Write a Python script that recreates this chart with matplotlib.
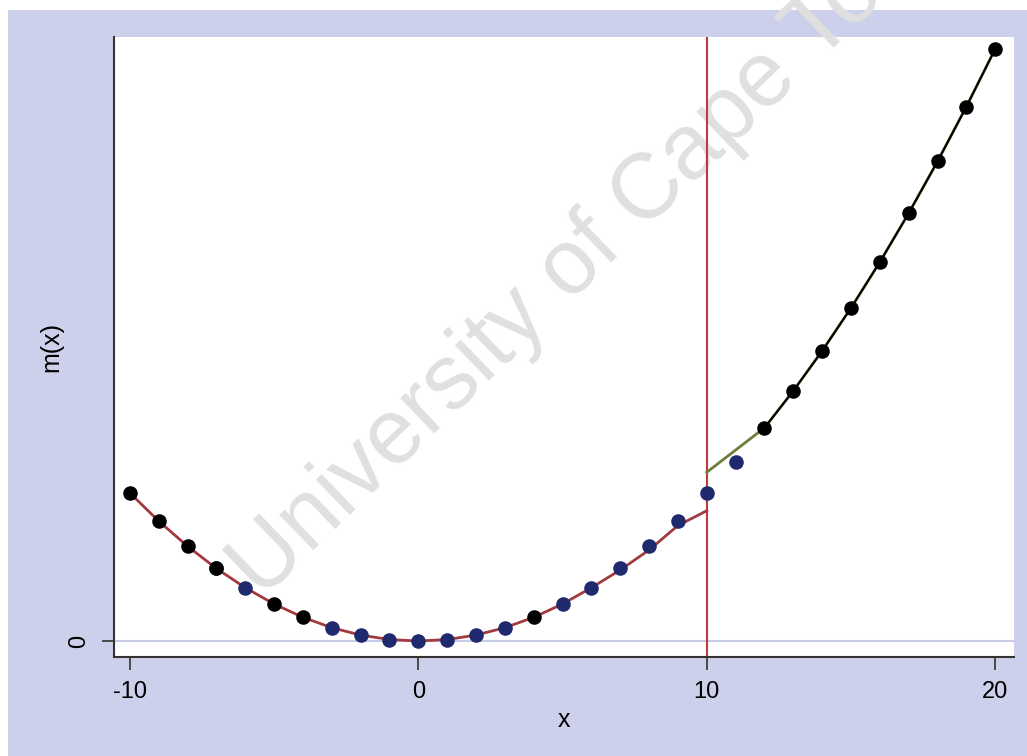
import numpy as np
import matplotlib.pyplot as plt
from matplotlib.patches import Rectangle

plt.rcParams['axes.unicode_minus'] = False
plt.rcParams['font.family'] = ['Liberation Sans', 'DejaVu Sans']

# observed points (two overlapping series)
x_black = [-10, -9, -8, -7, -5, -4, 4, 12, 13, 14, 15, 16, 17, 18, 19, 20]
y_black = [100, 81, 64, 49, 25, 16, 16, 144, 169, 196, 225, 256, 289, 324, 361, 400]
x_navy = [-7, -6, -3, -2, -1, 0, 1, 2, 3, 5, 6, 7, 8, 9, 10, 11]
y_navy = [49, 36, 9, 4, 1, 0, 1, 4, 9, 25, 36, 49, 64, 81, 100, 121]

# fitted curve left of cutoff
x_fit_left = [-10, -9, -8, -7, -6, -5, -4, -3, -2, -1, 0, 1, 2, 3, 4, 5, 6, 7, 8, 9, 10]
y_fit_left = [100, 81, 64, 49, 36, 25, 16, 9, 4, 1, 0, 1, 4, 9, 16, 25, 36, 48, 61.5, 78, 88]
# fitted curve right of cutoff
x_fit_right = [10, 11, 12, 13, 14, 15, 16, 17, 18, 19, 20]
y_fit_right = [114, 129, 144, 169, 196, 225, 256, 289, 324, 361, 400]

cutoff = 10

fig = plt.figure(figsize=(10.27, 7.56), dpi=100)
fig.patch.set_facecolor('white')
fig.patches.append(Rectangle((8 / 1027, 0), 1, 746 / 756, transform=fig.transFigure,
                             facecolor='#cdd0ea', edgecolor='none', zorder=-1))

ax = fig.add_axes([114 / 1027, 1 - 657 / 756, 900 / 1027, 620 / 756])
ax.set_facecolor('white')

ax.axhline(0, color='#c9cce8', lw=1.5, zorder=1)
ax.axvline(cutoff, color='#c0393b', lw=1.5, zorder=2)

ax.plot(x_fit_left, y_fit_left, color='#a33a3f', lw=2, zorder=3)
ax.plot(x_fit_right, y_fit_right, color='#6b7f3a', lw=2, zorder=3)
ax.plot(x_black[7:], y_black[7:], color='black', lw=1.5, zorder=4)

ax.scatter(x_navy, y_navy, s=110, color='#1f2a6e', zorder=5, linewidths=0)
ax.scatter(x_black, y_black, s=110, color='black', zorder=6, linewidths=0)

ax.set_xlim(-10.55, 20.65)
ax.set_ylim(-10.8, 408)

ax.set_xticks([-10, 0, 10, 20])
ax.set_yticks([0])
ax.tick_params(axis='both', direction='out', length=9, width=1.2, color='#333333',
               labelsize=17, pad=8)
for lab in ax.get_yticklabels():
    lab.set_rotation(90)
    lab.set_va('center')

for s in ['top', 'right']:
    ax.spines[s].set_visible(False)
for s in ['left', 'bottom']:
    ax.spines[s].set_color('#333333')
    ax.spines[s].set_linewidth(1.5)

ax.set_xlabel('x', fontsize=18, labelpad=4)
ax.set_ylabel('m(x)', fontsize=18, labelpad=4)

# watermark
ax.text(262 / 1027, 1 - 600 / 756, 'University of Cape Town', transform=fig.transFigure,
        fontsize=66, color='#e0e0e0', rotation=44, rotation_mode='anchor',
        ha='left', va='baseline', clip_on=False, zorder=0.5)

fig.savefig('out.png', dpi=100, facecolor=fig.get_facecolor())
